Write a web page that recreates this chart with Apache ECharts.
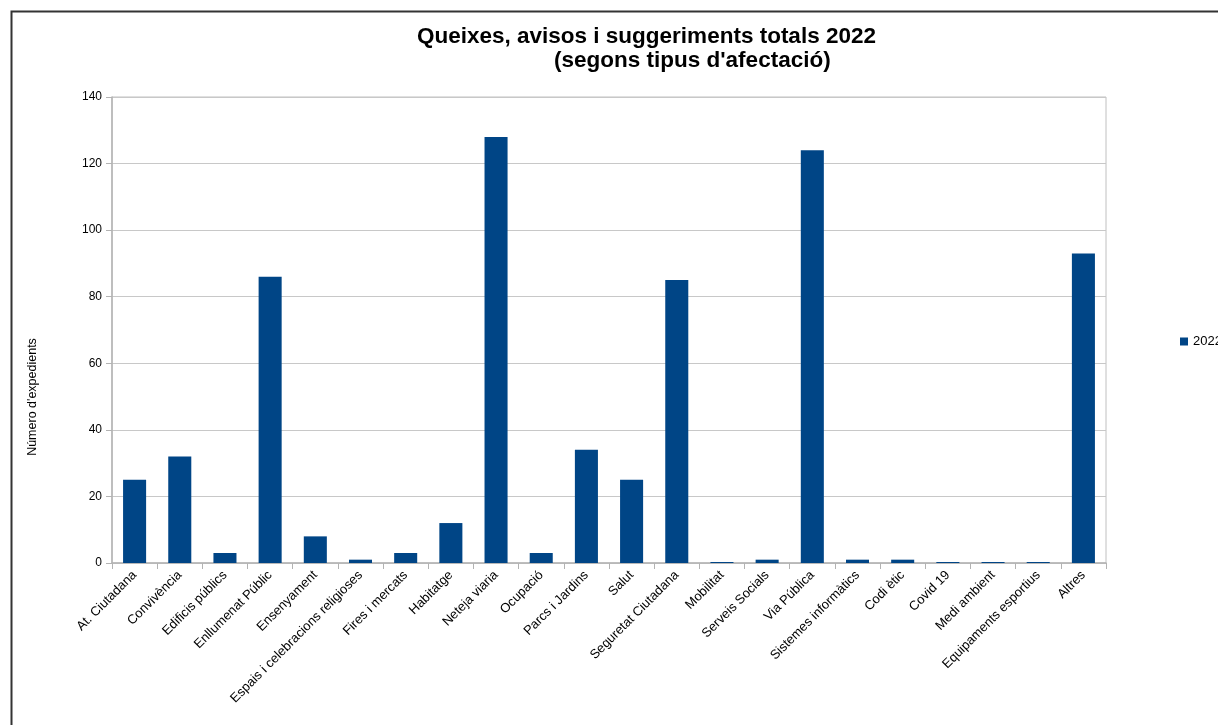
<!DOCTYPE html>
<html>
<head>
<meta charset="utf-8">
<script src="https://cdn.jsdelivr.net/npm/echarts@6/dist/echarts.min.js"></script>
<style>
html,body{margin:0;padding:0;background:#fff;}
#c{width:1218px;height:725px;}
</style>
</head>
<body>
<div id="c"></div>
<script>
const categories = ["At. Ciutadana","Convivència","Edificis públics","Enllumenat Públic","Ensenyament","Espais i celebracions religioses","Fires i mercats","Habitatge","Neteja viaria","Ocupació","Parcs i Jardins","Salut","Seguretat Ciutadana","Mobilitat","Serveis Socials","Via Pública","Sistemes informàtics","Codi ètic","Covid 19","Medi ambient","Equipaments esportius","Altres"];
const values2022 = [25,32,3,86,8,1,3,12,128,3,34,25,85,0,1,124,1,1,0,0,0,93];
const seriesName = "2022";
const titleLine1 = "Queixes, avisos i suggeriments totals 2022";
const titleLine2 = "(segons tipus d'afectació)";
const yAxisName = "Número d'expedients";

const chart = echarts.init(document.getElementById('c'));
const font = "'Liberation Sans', Arial, sans-serif";
chart.setOption({
  animation: false,
  backgroundColor: '#fff',
  textStyle: { fontFamily: font },
  title: [
    { text: titleLine1, left: 412, top: 20, textStyle: { fontSize: 22.5, fontWeight: 'bold', color: '#000', fontFamily: font } },
    { text: titleLine2, left: 549, top: 44, textStyle: { fontSize: 22.5, fontWeight: 'bold', color: '#000', fontFamily: font } }
  ],
  legend: {
    left: 1175, top: 330, orient: 'vertical',
    icon: 'rect', itemWidth: 8, itemHeight: 8, itemGap: 4,
    textStyle: { fontSize: 13, color: '#000', fontFamily: font },
    data: [seriesName]
  },
  graphic: [
    { type: 'rect', left: 9, top: 9, shape: { width: 1300, height: 800 }, style: { fill: 'none', stroke: '#333', lineWidth: 2 } },
    { type: 'text', x: 33, y: 397, rotation: Math.PI / 2, style: { text: yAxisName, fill: '#000', font: "12.5px " + font, textAlign: 'center', textVerticalAlign: 'middle' } }
  ],
  grid: { left: 112, right: 112, top: 97, bottom: 162, show: true, borderColor: '#c0c0c0', borderWidth: 1 },
  xAxis: {
    type: 'category', data: categories,
    axisLine: { show: true, lineStyle: { color: '#b3b3b3', width: 1.5 } },
    axisTick: { show: true, length: 6, lineStyle: { color: '#b3b3b3' } },
    axisLabel: { rotate: 45, interval: 0, fontSize: 13, color: '#000', margin: 10, fontFamily: font }
  },
  yAxis: {
    type: 'value', min: 0, max: 140, interval: 20,
    axisLine: { show: true, lineStyle: { color: '#b3b3b3', width: 1.5 } },
    axisTick: { show: true, length: 6, lineStyle: { color: '#b3b3b3' } },
    axisLabel: { fontSize: 12, color: '#000', margin: 10, fontFamily: font },
    splitLine: { show: true, lineStyle: { color: '#c8c8c8', width: 1 } }
  },
  series: [{
    name: seriesName, type: 'bar', data: values2022,
    barWidth: '51%', barMinHeight: 1,
    itemStyle: { color: '#004586' }
  }]
});
</script>
</body>
</html>
